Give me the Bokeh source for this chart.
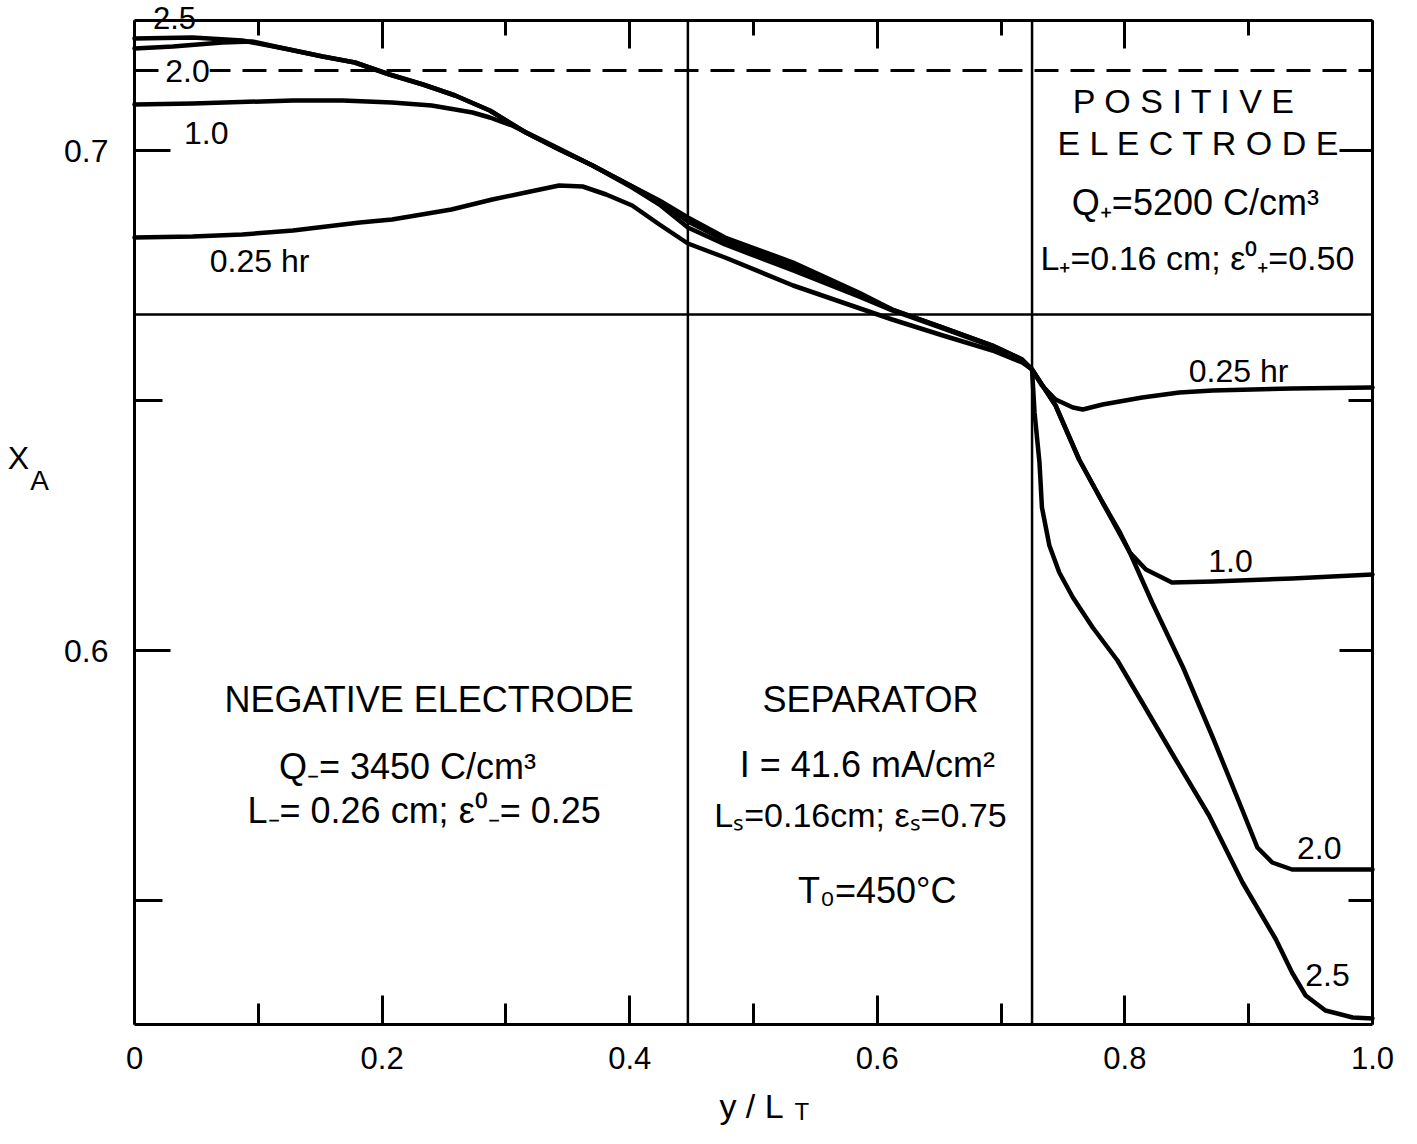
from bokeh.plotting import figure
from bokeh.models import Range1d, FixedTicker, LinearAxis, Label
from bokeh.embed import file_html
from bokeh.resources import INLINE

# ---- data ----
x_025 = [0, 0.047, 0.087, 0.128, 0.182, 0.208, 0.256, 0.289, 0.316, 0.343, 0.362, 0.381, 0.402, 0.424, 0.447,
         0.477, 0.532, 0.572, 0.612, 0.653, 0.693, 0.717, 0.725,
         0.733, 0.744, 0.758, 0.766, 0.782, 0.814, 0.844, 0.871, 0.935, 1.0]
y_025 = [0.6826, 0.6828, 0.6832, 0.6840, 0.6856, 0.6862, 0.6882, 0.6902, 0.6916, 0.6930, 0.6928, 0.6912, 0.6890, 0.6852, 0.6814,
         0.6786, 0.6730, 0.6696, 0.6662, 0.6630, 0.6600, 0.6576, 0.6562,
         0.6530, 0.6502, 0.6486, 0.6482, 0.6492, 0.6506, 0.6516, 0.6520, 0.6524, 0.6526]

x_10 = [0, 0.047, 0.128, 0.168, 0.208, 0.240, 0.259, 0.273, 0.287, 0.305, 0.338, 0.370, 0.402, 0.424, 0.447,
        0.477, 0.532, 0.585, 0.612, 0.653, 0.693, 0.717, 0.725,
        0.744, 0.763, 0.782, 0.796, 0.804, 0.817, 0.838, 0.871, 0.935, 1.0]
y_10 = [0.7092, 0.7094, 0.7100, 0.7100, 0.7096, 0.7090, 0.7082, 0.7076, 0.7066, 0.7050, 0.7010, 0.6970, 0.6926, 0.6892, 0.6846,
        0.6812, 0.6760, 0.6708, 0.6680, 0.6644, 0.6608, 0.6580, 0.6562,
        0.6490, 0.6382, 0.6296, 0.6236, 0.6196, 0.6162, 0.6136, 0.6138, 0.6144, 0.6152]

x_20 = [0, 0.031, 0.071, 0.095, 0.125, 0.152, 0.178, 0.206, 0.233, 0.259, 0.287, 0.316, 0.343, 0.370, 0.396, 0.424, 0.447,
        0.477, 0.532, 0.585, 0.612, 0.653, 0.693, 0.717, 0.725,
        0.744, 0.763, 0.782, 0.804, 0.822, 0.847, 0.871, 0.895, 0.907, 0.919, 0.935, 1.0]
y_20 = [0.7204, 0.7208, 0.7216, 0.7218, 0.7202, 0.7188, 0.7176, 0.7152, 0.7132, 0.7110, 0.7080, 0.7036, 0.7002, 0.6970, 0.6936, 0.6898, 0.6858,
        0.6820, 0.6768, 0.6712, 0.6682, 0.6646, 0.6610, 0.6582, 0.6562,
        0.6490, 0.6382, 0.6296, 0.6196, 0.6096, 0.5966, 0.5826, 0.5680, 0.5606, 0.5576, 0.5562, 0.5562]

x_25 = [0, 0.047, 0.087, 0.125, 0.152, 0.178, 0.206, 0.233, 0.259, 0.287, 0.316, 0.343, 0.370, 0.396, 0.424, 0.447,
        0.477, 0.532, 0.585, 0.612, 0.653, 0.693, 0.717, 0.725,
        0.727, 0.731, 0.733, 0.739, 0.747, 0.758, 0.774, 0.794, 0.814, 0.841, 0.868, 0.895, 0.922, 0.935, 0.946, 0.962, 0.984, 1.0]
y_25 = [0.7224, 0.7226, 0.7220, 0.7202, 0.7188, 0.7176, 0.7152, 0.7132, 0.7110, 0.7080, 0.7036, 0.7002, 0.6970, 0.6936, 0.6900, 0.6866,
        0.6826, 0.6776, 0.6716, 0.6682, 0.6646, 0.6610, 0.6582, 0.6562,
        0.6476, 0.6376, 0.6286, 0.6210, 0.6156, 0.6106, 0.6046, 0.5980, 0.5896, 0.5782, 0.5670, 0.5536, 0.5422, 0.5356, 0.5310, 0.5280, 0.5266, 0.5264]

X_MIN, X_MAX = 0.0, 1.0
Y_MIN, Y_MAX = 0.5252, 0.7260
region_bounds = [0.447, 0.725]
h_line_y = 0.6672
dashed_y = 0.716

x_ticks = [0, 0.2, 0.4, 0.6, 0.8, 1.0]
x_minor = [0.1, 0.3, 0.5, 0.7, 0.9]
y_ticks = [0.6, 0.7]
y_minor = [0.55, 0.65]

FONT = "Liberation Sans"

W, H = 1400, 1128
# frame covers the whole canvas; the plot box is drawn with fixed-location axes
p = figure(width=W, height=H,
           x_range=Range1d(-134 / 1238, 1 + 28 / 1238),
           y_range=Range1d(Y_MIN - 104 / 5000, Y_MAX + 20 / 5000),
           x_axis_location=None, y_axis_location=None,
           output_backend="svg", toolbar_location=None,
           min_border=0, min_border_left=0, min_border_right=0, min_border_top=0, min_border_bottom=0)
p.grid.visible = False
p.outline_line_color = None
p.background_fill_color = "white"
p.border_fill_color = "white"


def make_axis(side, loc, bounds, ticks, minor, tin, tmin, line=True):
    ax = LinearAxis(fixed_location=loc, bounds=bounds,
                    ticker=FixedTicker(ticks=ticks, minor_ticks=minor))
    ax.axis_line_width = 3
    ax.axis_line_color = "black" if line else None
    ax.major_tick_line_width = 3
    ax.minor_tick_line_width = 3
    ax.major_tick_in = tin
    ax.major_tick_out = 0
    ax.minor_tick_in = tmin
    ax.minor_tick_out = 0
    ax.major_label_text_color = "black"
    ax.major_label_text_font = FONT
    p.add_layout(ax, side)
    return ax


xb = make_axis("below", Y_MIN, (X_MIN, X_MAX), x_ticks, x_minor, 29, 21)
xb.major_label_overrides = {0: "0", 1.0: "1.0"}
xb.major_label_text_font_size = "31px"
xb.major_label_standoff = 22

yl = make_axis("left", X_MIN, (Y_MIN, Y_MAX), y_ticks, y_minor, 36, 28)
yl.major_label_text_font_size = "32px"
yl.major_label_standoff = 26

# top and right: tick marks only (no labels) -> use minor ticks only
make_axis("above", Y_MAX, (X_MIN, X_MAX), [], x_ticks, 0, 28)
make_axis("above", Y_MAX, (X_MIN, X_MAX), [], x_minor, 0, 15, line=False)
make_axis("right", X_MAX, (Y_MIN, Y_MAX), [], y_ticks, 0, 33)
make_axis("right", X_MAX, (Y_MIN, Y_MAX), [], y_minor, 0, 24, line=False)

# region boundaries and reference lines
for xb_ in region_bounds:
    p.line([xb_, xb_], [Y_MIN, Y_MAX], line_color="black", line_width=2.5)
p.line([X_MIN, X_MAX], [h_line_y, h_line_y], line_color="black", line_width=2.5)
p.line([X_MIN, X_MAX], [dashed_y, dashed_y], line_color="black", line_width=3, line_dash="24 12")

for xs, ys in [(x_025, y_025), (x_10, y_10), (x_20, y_20), (x_25, y_25)]:
    p.line(xs, ys, line_color="black", line_width=4.5, line_join="round", line_cap="round")


def lab(x, y, t, size="34px", align="center", bg=None):
    kw = {}
    if bg:
        kw = dict(background_fill_color=bg)
    p.add_layout(Label(x=x, y=y, text=t, text_font=FONT, text_font_size=size, text_align=align,
                       text_baseline="middle", text_color="black", **kw))


# region texts
lab(0.238, 0.5902, "NEGATIVE ELECTRODE", "36px")
lab(0.2246, 0.5768, "Q\u208b= 3450  C/cm\u00b3", "36px")
lab(0.238, 0.5680, "L\u208b= 0.26 cm;  \u03b5\u2070\u208b= 0.25", "36px")
lab(0.5945, 0.5902, "SEPARATOR", "36px")
lab(0.596, 0.5772, "I =  41.6 mA/cm\u00b2", "36px")
lab(0.5864, 0.5672, "L\u209b=0.16cm; \u03b5\u209b=0.75", "34px")
lab(0.600, 0.5520, "T\u2080=450\u00b0C", "36px")
lab(0.848, 0.7100, "P O S I T I V E", "34px")
lab(0.860, 0.7016, "E L E C T R O D E", "34px")
lab(0.861, 0.6896, "Q\u208a=5200  C/cm\u00b3", "36px")
lab(0.8586, 0.6786, "L\u208a=0.16 cm; \u03b5\u2070\u208a=0.50", "34px")

# curve labels
lab(0.0323, 0.7266, "2.5", "31px")
lab(0.0428, 0.7160, "2.0", "32px", bg="white")
lab(0.058, 0.7036, "1.0", "32px")
lab(0.101, 0.6780, "0.25 hr", "32px")
lab(0.8918, 0.6560, "0.25 hr", "32px")
lab(0.8853, 0.6180, "1.0", "32px")
lab(0.957, 0.5606, "2.0", "32px")
lab(0.9637, 0.5352, "2.5", "32px")

# axis titles
lab(-0.0937, 0.6386, "X", "32px")
lab(-0.0767, 0.6340, "A", "28px")
lab(0.4984, 0.5090, "y / L", "34px")
lab(0.5390, 0.5078, "T", "24px")

open("out.html", "w").write(file_html(p, INLINE))
